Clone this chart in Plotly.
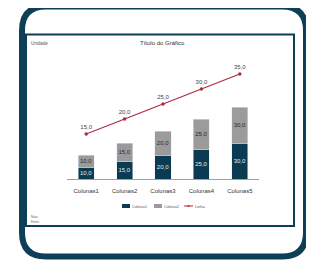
import plotly.graph_objects as go

categories = ["Colunas1", "Colunas2", "Colunas3", "Colunas4", "Colunas5"]
coluna1 = [10, 15, 20, 25, 30]
coluna2 = [10, 15, 20, 25, 30]
linha = [15, 20, 25, 30, 35]

W, H = 314, 261
OFF = 8  # page body margin offset
# plot area in window pixels: x 67..259, y 59..179
L, T = 67 - OFF, 59 - OFF
R, B = W - (259 - OFF), H - (179 - OFF)
PW, PH = W - L - R, H - T - B

def px(x):
    return (x - OFF - L) / PW

def py(y):
    return (T + PH - (y - OFF)) / PH

def fmt(v):
    return f"{v:.1f}".replace(".", ",")

DARK = "#0b3b53"
GREY = "#9b9b9b"
RED = "#b02a40"
FONT = "Liberation Sans, Arial, sans-serif"

fig = go.Figure()
fig.add_trace(go.Bar(
    x=categories, y=coluna1, name="Coluna1", marker_color=DARK, width=0.42,
    text=[fmt(v) for v in coluna1], textposition="inside", insidetextanchor="middle",
    textangle=0, textfont=dict(size=6, color="#e4eaee", family=FONT), constraintext="none",
))
fig.add_trace(go.Bar(
    x=categories, y=coluna2, name="Coluna2", marker_color=GREY, width=0.42,
    text=[fmt(v) for v in coluna2], textposition="inside", insidetextanchor="middle",
    textangle=0, textfont=dict(size=6, color="#2a2a2a", family=FONT), constraintext="none",
))
fig.add_trace(go.Scatter(
    x=categories, y=linha, name="Linha", yaxis="y2", mode="lines+markers+text",
    line=dict(color=RED, width=1.2), marker=dict(color=RED, size=3.5),
    text=[fmt(v) for v in linha], textposition="top center",
    textfont=dict(size=6, color="#444444", family=FONT),
))

shapes = []
# outer rounded card
x0, x1, y0, y1, r = 22, 306, 6.5, 256.5, 24
def P(x, y):
    return f"{px(x):.5f},{py(y):.5f}"
path = (f"M {P(x0 + r, y0)} L {P(x1 - r, y0)} Q {P(x1, y0)} {P(x1, y0 + r)} "
        f"L {P(x1, y1 - r)} Q {P(x1, y1)} {P(x1 - r, y1)} "
        f"L {P(x0 + r, y1)} Q {P(x0, y1)} {P(x0, y1 - r)} "
        f"L {P(x0, y0 + r)} Q {P(x0, y0)} {P(x0 + r, y0)} Z")
shapes.append(dict(type="path", xref="paper", yref="paper", path=path,
                   line=dict(color="#0d3f57", width=6), layer="below"))
# inner chart frame
shapes.append(dict(type="rect", xref="paper", yref="paper",
                   x0=px(26), x1=px(294), y0=py(34.5), y1=py(226),
                   line=dict(color="#0d3f57", width=2), layer="below"))
# legend swatches
shapes.append(dict(type="rect", xref="paper", yref="paper",
                   x0=px(122), x1=px(130), y0=py(204), y1=py(208),
                   fillcolor=DARK, line=dict(width=0)))
shapes.append(dict(type="rect", xref="paper", yref="paper",
                   x0=px(154), x1=px(162), y0=py(204), y1=py(208),
                   fillcolor=GREY, line=dict(width=0)))
shapes.append(dict(type="line", xref="paper", yref="paper",
                   x0=px(184), x1=px(193), y0=py(206), y1=py(206),
                   line=dict(color=RED, width=1)))
shapes.append(dict(type="circle", xref="paper", yref="paper",
                   x0=px(187.5), x1=px(189.5), y0=py(205), y1=py(207),
                   fillcolor=RED, line=dict(width=0)))

def ann(text, x, y, size, color="#333333", xanchor="left"):
    return dict(text=text, x=px(x), y=py(y), xref="paper", yref="paper",
                showarrow=False, xanchor=xanchor, yanchor="middle",
                font=dict(size=size, color=color, family=FONT))

annotations = [
    ann("Unidade", 29, 43, 4.5, "#555555"),
    ann("Título do Gráfico", 162, 43, 6, "#333333", "center"),
    ann("Coluna1", 130, 206, 4, "#555555"),
    ann("Coluna2", 162, 206, 4, "#555555"),
    ann("Linha", 193, 206, 4, "#555555"),
    ann("Nota:", 29, 216.5, 3, "#666666"),
    ann("Fonte:", 29, 221.5, 3, "#666666"),
]

fig.update_layout(
    width=W, height=H, margin=dict(l=L, r=R, t=T, b=B),
    paper_bgcolor="white", plot_bgcolor="white",
    barmode="stack", showlegend=False,
    shapes=shapes, annotations=annotations,
    xaxis=dict(showgrid=False, zeroline=False, showline=True, linecolor="#a0a0a0",
               linewidth=1.2, ticks="", ticklabelstandoff=6,
               tickfont=dict(size=6, color="#333333", family=FONT),
               range=[-0.5, 4.5]),
    yaxis=dict(range=[0, 100], visible=False),
    yaxis2=dict(range=[0, 40], visible=False, overlaying="y", side="right"),
)

fig.write_html("out.html")
